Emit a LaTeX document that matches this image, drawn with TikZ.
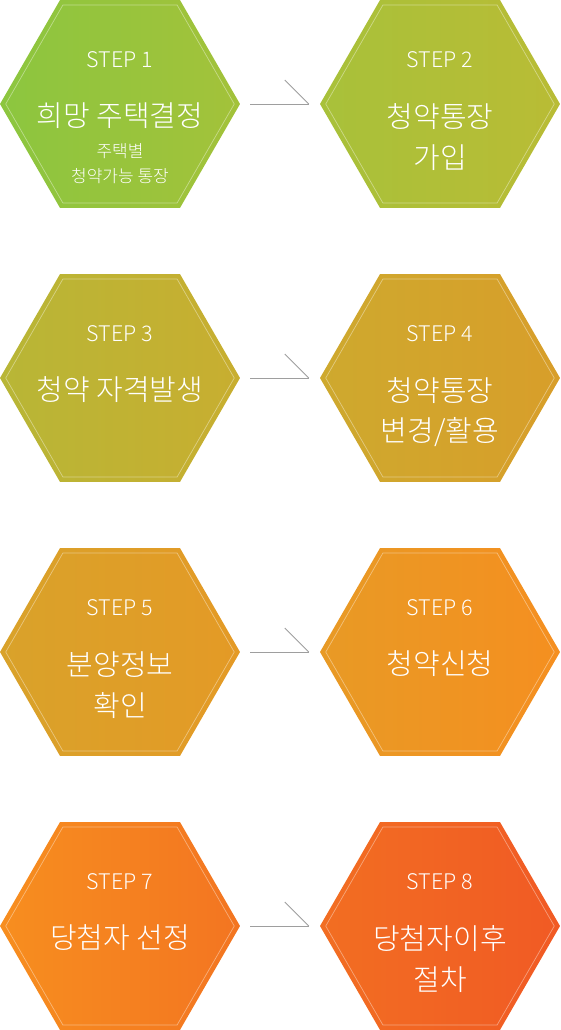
\documentclass[tikz,border=0pt]{standalone}
\usepackage{fontspec}
\newfontfamily\kr{Noto Sans CJK KR Light}
\usetikzlibrary{shapes.geometric}
\tikzset{
  hexa/.style={regular polygon, regular polygon sides=6, minimum size=240pt, inner sep=0pt, draw=none},
  hexin/.style={regular polygon, regular polygon sides=6, minimum size=228.5pt, inner sep=0pt, draw=white, draw opacity=0.4, line width=0.7pt},
  steplbl/.style={text=white, font=\kr\fontsize{21.5}{21.5}\selectfont, inner sep=0pt},
  mainlbl/.style={text=white, font=\kr\fontsize{29}{29}\selectfont, inner sep=0pt},
  sublbl/.style={text=white, font=\kr\fontsize{17}{17}\selectfont, inner sep=0pt},
  conn/.style={draw=black!38, line width=0.9pt}
}
\begin{document}
\begin{tikzpicture}[x=1pt,y=-1pt]
\useasboundingbox (0,0) rectangle (560,1030);
% hexagons
\node[hexa, left color={rgb,255:red,140;green,198;blue,63}, right color={rgb,255:red,163;green,194;blue,58}] (h1) at (120,104) {};
\node[hexa, left color={rgb,255:red,168;green,193;blue,58}, right color={rgb,255:red,185;green,188;blue,53}] (h2) at (440,104) {};
\node[hexa, left color={rgb,255:red,184;green,182;blue,54}, right color={rgb,255:red,200;green,174;blue,48}] (h3) at (120,378) {};
\node[hexa, left color={rgb,255:red,206;green,169;blue,46}, right color={rgb,255:red,216;green,158;blue,42}] (h4) at (440,378) {};
\node[hexa, left color={rgb,255:red,217;green,162;blue,42}, right color={rgb,255:red,228;green,154;blue,38}] (h5) at (120,652) {};
\node[hexa, left color={rgb,255:red,232;green,154;blue,37}, right color={rgb,255:red,245;green,143;blue,32}] (h6) at (440,652) {};
\node[hexa, left color={rgb,255:red,247;green,142;blue,31}, right color={rgb,255:red,243;green,117;blue,33}] (h7) at (120,926) {};
\node[hexa, left color={rgb,255:red,242;green,110;blue,34}, right color={rgb,255:red,241;green,90;blue,36}] (h8) at (440,926) {};
% inner borders
\foreach \h in {h1,h2,h3,h4,h5,h6,h7,h8} {
  \node[hexin] (\h i) at (\h.center) {};
}
% texts
\node[steplbl] (s1) at ([yshift=44pt]h1.center) {STEP 1};
\node[mainlbl] (t1) at ([yshift=-12pt]h1.center) {희망 주택결정};
\node[sublbl] (u1) at ([yshift=-47pt]h1.center) {주택별};
\node[sublbl] (v1) at ([yshift=-72pt]h1.center) {청약가능 통장};

\node[steplbl] (s2) at ([yshift=44pt]h2.center) {STEP 2};
\node[mainlbl] (t2) at ([yshift=-13pt]h2.center) {청약통장};
\node[mainlbl] (u2) at ([yshift=-54pt]h2.center) {가입};

\node[steplbl] (s3) at ([yshift=44pt]h3.center) {STEP 3};
\node[mainlbl] (t3) at ([yshift=-12pt]h3.center) {청약 자격발생};

\node[steplbl] (s4) at ([yshift=44pt]h4.center) {STEP 4};
\node[mainlbl] (t4) at ([yshift=-13pt]h4.center) {청약통장};
\node[mainlbl] (u4) at ([yshift=-54pt]h4.center) {변경/활용};

\node[steplbl] (s5) at ([yshift=44pt]h5.center) {STEP 5};
\node[mainlbl] (t5) at ([yshift=-13pt]h5.center) {분양정보};
\node[mainlbl] (u5) at ([yshift=-54pt]h5.center) {확인};

\node[steplbl] (s6) at ([yshift=44pt]h6.center) {STEP 6};
\node[mainlbl] (t6) at ([yshift=-12pt]h6.center) {청약신청};

\node[steplbl] (s7) at ([yshift=44pt]h7.center) {STEP 7};
\node[mainlbl] (t7) at ([yshift=-12pt]h7.center) {당첨자 선정};

\node[steplbl] (s8) at ([yshift=44pt]h8.center) {STEP 8};
\node[mainlbl] (t8) at ([yshift=-13pt]h8.center) {당첨자이후};
\node[mainlbl] (u8) at ([yshift=-54pt]h8.center) {절차};

% connectors
\foreach \a/\b in {h1/h2,h3/h4,h5/h6,h7/h8} {
  \draw[conn] ([xshift=10pt]\a.east) -- ([xshift=-11pt]\b.west);
  \draw[conn] ([xshift=-35pt,yshift=24pt]\b.west) -- ([xshift=-11pt]\b.west);
}
\end{tikzpicture}
\end{document}
